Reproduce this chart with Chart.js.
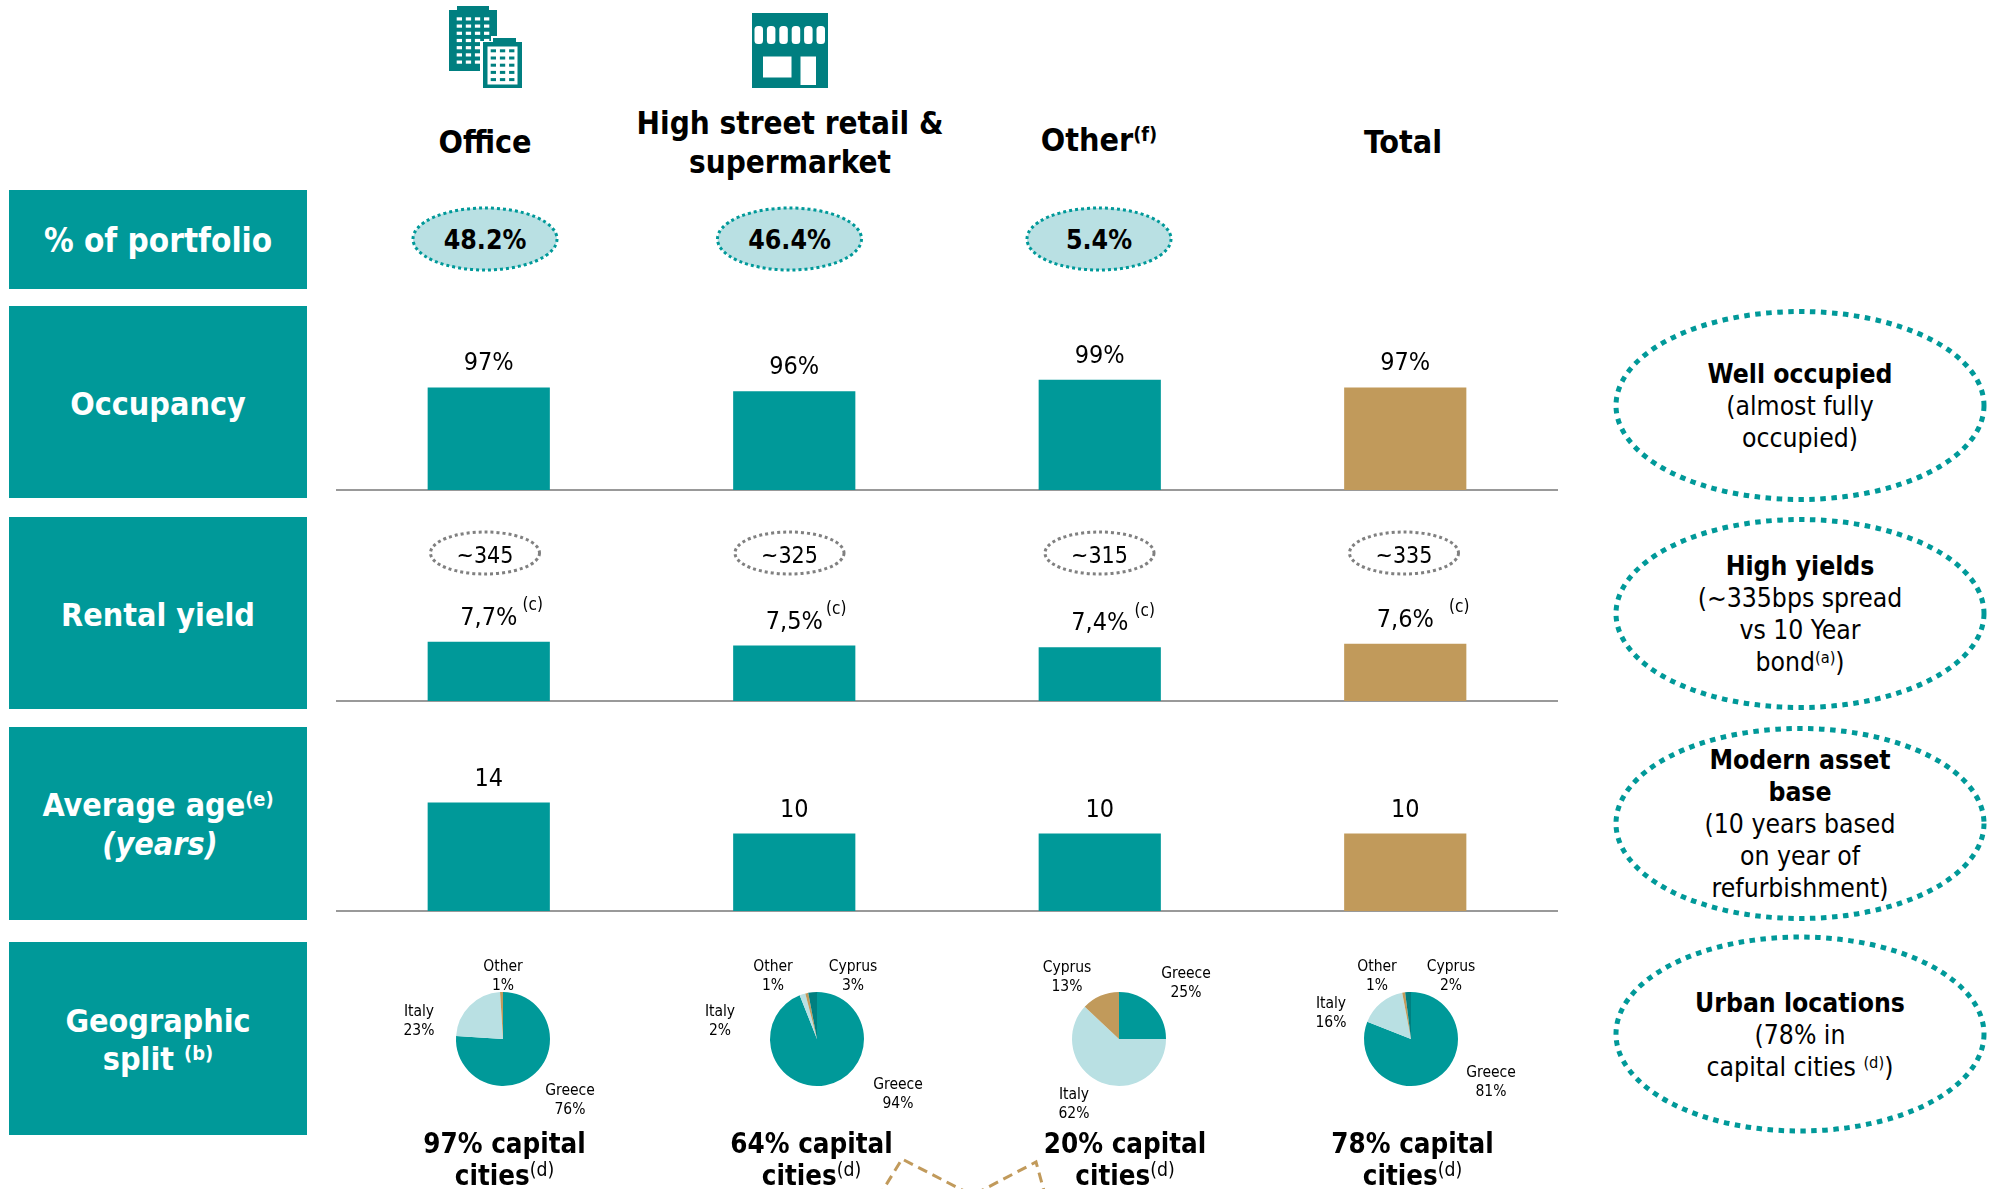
<!DOCTYPE html>
<html>
<head>
<meta charset="utf-8">
<title>Portfolio overview</title>
<script src="https://cdn.jsdelivr.net/npm/chart.js@4/dist/chart.umd.min.js"></script>
<style>
    html, body { margin: 0; padding: 0; background: #fff; }
    #page {
        position: relative; width: 2004px; height: 1189px; overflow: hidden;
        font-family: "DejaVu Sans Condensed", "DejaVu Sans", sans-serif; color: #000;
    }
    #page canvas { position: absolute; }
    #shapes { position: absolute; left: 0; top: 0; }
    .box { position: absolute; left: 9px; width: 298px; background: #009999; }
    .txt { position: absolute; transform: translate(-50%, -50%); white-space: nowrap; line-height: 1; }
    .txt sup { font-size: 0.62em; line-height: 0; vertical-align: 0.5em; }
    .txt sup.lite { font-size: 0.7em; font-weight: normal; }
    .b { font-weight: bold; }
    .w { color: #fff; font-weight: bold; }
</style>
</head>
<body>
<div id="page">
    <svg id="shapes" width="2004" height="1189" xmlns="http://www.w3.org/2000/svg"></svg>
</div>
<script>
// --- Data ---
const sectors = ["Office", "High street retail & supermarket", "Other", "Total"];
const occupancy = [97, 96, 99, 97];
const rentalYield = [7.7, 7.5, 7.4, 7.6];
const averageAge = [14, 10, 10, 10];
const portfolioShare = ["48.2%", "46.4%", "5.4%"];
const yieldSpread = ["~345", "~325", "~315", "~335"];

const geoNames = [
    ["Greece", "Italy", "Other"],
    ["Greece", "Italy", "Other", "Cyprus"],
    ["Greece", "Italy", "Cyprus"],
    ["Greece", "Italy", "Other", "Cyprus"]
];
const geoValues = [
    [76, 23, 1],
    [94, 2, 1, 3],
    [25, 62, 13],
    [81, 16, 1, 2]
];
const capitalCities = ["97%", "64%", "20%", "78%"];

// --- Colours ---
const TEAL = "#009999", DARK = "#007F80", LIGHT = "#B9E0E3", TAN = "#C19A5B", GREY = "#999999";
const barColors = [TEAL, TEAL, TEAL, TAN];
const sliceColors = [TEAL, LIGHT, TAN, DARK];
const FONT = '"DejaVu Sans Condensed", "DejaVu Sans", sans-serif';

const page = document.getElementById("page");
const shapes = document.getElementById("shapes");

function addText(html, x, y, size, cls) {
    const el = document.createElement("div");
    el.className = "txt " + (cls || "");
    el.style.left = x + "px";
    el.style.top = y + "px";
    el.style.fontSize = size + "px";
    el.innerHTML = html;
    page.appendChild(el);
}

function addShape(tag, attrs) {
    const el = document.createElementNS("http://www.w3.org/2000/svg", tag);
    for (const k in attrs) el.setAttribute(k, attrs[k]);
    shapes.appendChild(el);
}

function addCanvas(left, top, width, height) {
    const c = document.createElement("canvas");
    c.width = width;
    c.height = height;
    c.style.left = left + "px";
    c.style.top = top + "px";
    c.style.width = width + "px";
    c.style.height = height + "px";
    page.appendChild(c);
    return c;
}

// Value label over each bar, plus the optional footnote mark next to it
const barLabels = {
    id: "barLabels",
    afterDatasetsDraw(chart, args, opts) {
        const ctx = chart.ctx;
        const values = chart.data.datasets[0].data;
        ctx.save();
        ctx.fillStyle = "#000";
        ctx.textAlign = "center";
        ctx.textBaseline = "middle";
        chart.getDatasetMeta(0).data.forEach((bar, i) => {
            ctx.font = "25px " + FONT;
            ctx.fillText(opts.format(values[i]), bar.x, bar.y - 23.5);
            if (opts.noteDx) {
                ctx.font = "17px " + FONT;
                ctx.fillText(opts.note, bar.x + opts.noteDx[i], bar.y - 36);
            }
        });
        ctx.restore();
    }
};

// One strip of bars. yMin/yMax set how tall the bars come out in a canvas of this height.
function barRow(baseline, height, values, yMin, yMax, labelOpts) {
    const canvas = addCanvas(336, baseline - height, 1222, height + 2);
    new Chart(canvas, {
        type: "bar",
        data: {
            labels: sectors,
            datasets: [{
                data: values,
                backgroundColor: barColors,
                barPercentage: 0.4,
                categoryPercentage: 1
            }]
        },
        options: {
            responsive: false,
            animation: false,
            layout: { padding: { bottom: 2 } },
            scales: {
                x: {
                    grid: { display: false, drawTicks: false },
                    ticks: { display: false },
                    border: { color: GREY, width: 2 }
                },
                y: { display: false, min: yMin, max: yMax }
            },
            plugins: {
                legend: { display: false },
                tooltip: { enabled: false },
                barLabels: labelOpts
            }
        },
        plugins: [barLabels]
    });
}

barRow(490, 152, occupancy, 70, 110, { format: v => v + "%" });
barRow(701, 148, rentalYield, 4.5, 12.5, {
    format: v => String(v).replace(".", ",") + "%",
    note: "(c)",
    noteDx: [44, 42, 45, 54]
});
barRow(911, 155, averageAge, 0, 20, { format: v => String(v) });

// --- Pies ---
const pieCentres = [[503, 1039], [817, 1039], [1118.5, 1039], [1411, 1039]];
// where each slice's label sits, relative to the pie centre
const pieLabelOffsets = [
    [[67, 61], [-84, -18], [0, -63]],
    [[81, 55], [-97, -18], [-44, -63], [36, -63]],
    [[67, -56], [-45, 65], [-52, -62]],
    [[80, 43], [-80, -26], [-34, -63], [40, -63]]
];

const pieLabels = {
    id: "pieLabels",
    afterDatasetsDraw(chart, args, opts) {
        const ctx = chart.ctx;
        const arc = chart.getDatasetMeta(0).data[0];
        ctx.save();
        ctx.fillStyle = "#000";
        ctx.font = "15.5px " + FONT;
        ctx.textAlign = "center";
        ctx.textBaseline = "middle";
        chart.data.labels.forEach((name, i) => {
            const x = arc.x + opts.offsets[i][0];
            const y = arc.y + opts.offsets[i][1];
            ctx.fillText(name, x, y - 9.5);
            ctx.fillText(chart.data.datasets[0].data[i] + "%", x, y + 9.5);
        });
        ctx.restore();
    }
};

geoValues.forEach((values, i) => {
    const w = 290, h = 190;
    const canvas = addCanvas(pieCentres[i][0] - w / 2, pieCentres[i][1] - h / 2, w, h);
    new Chart(canvas, {
        type: "pie",
        data: {
            labels: geoNames[i],
            datasets: [{ data: values, backgroundColor: sliceColors, borderWidth: 0, radius: 47 }]
        },
        options: {
            responsive: false,
            animation: false,
            plugins: {
                legend: { display: false },
                tooltip: { enabled: false },
                pieLabels: { offsets: pieLabelOffsets[i] }
            }
        },
        plugins: [pieLabels]
    });
});

// --- Row headers on the left ---
const rowBoxes = [[190, 99], [306, 192], [517, 192], [727, 193], [942, 193]];
rowBoxes.forEach(r => {
    const el = document.createElement("div");
    el.className = "box";
    el.style.top = r[0] + "px";
    el.style.height = r[1] + "px";
    page.appendChild(el);
});
addText("% of portfolio", 158, 240, 33, "w");
addText("Occupancy", 158, 404, 32, "w");
addText("Rental yield", 158, 615, 32, "w");
addText("Average age<sup>(e)</sup>", 158, 805, 32, "w");
addText("<i>(years)</i>", 160, 844, 32, "w");
addText("Geographic", 158, 1021, 32, "w");
addText("split <sup>(b)</sup>", 158, 1059, 32, "w");

// --- Column headings ---
addText("Office", 485, 142, 32, "b");
addText("High street retail &amp;", 790, 124, 31.2, "b");
addText("supermarket", 790, 163, 31.2, "b");
addText("Other<sup>(f)</sup>", 1099, 140, 32, "b");
addText("Total", 1403, 142, 32, "b");

// --- Share of portfolio ovals ---
const shareCentres = [485, 789.5, 1099];
portfolioShare.forEach((s, i) => {
    addShape("ellipse", {
        cx: shareCentres[i], cy: 239, rx: 72, ry: 31,
        fill: LIGHT, stroke: TEAL, "stroke-width": 3, "stroke-dasharray": "3 3"
    });
    addText(s, shareCentres[i], 240, 26.5, "b");
});

// --- Yield spread ovals ---
const spreadCentres = [485, 789.5, 1099.5, 1404];
yieldSpread.forEach((s, i) => {
    addShape("ellipse", {
        cx: spreadCentres[i], cy: 553, rx: 54.5, ry: 21,
        fill: "none", stroke: "#808080", "stroke-width": 3, "stroke-dasharray": "3 3"
    });
    addText(s, spreadCentres[i], 555, 23);
});

// --- Takeaway ovals on the right ---
const takeaways = [
    { cy: 405.5, ry: 94, lines: [["<b>Well occupied</b>", 374], ["(almost fully", 406], ["occupied)", 438]] },
    { cy: 613.5, ry: 94, lines: [["<b>High yields</b>", 566], ["(~335bps spread", 598], ["vs 10 Year", 630], ["bond<sup>(a)</sup>)", 662]] },
    { cy: 823.5, ry: 95, lines: [["<b>Modern asset</b>", 760], ["<b>base</b>", 792], ["(10 years based", 824], ["on year of", 856], ["refurbishment)", 888]] },
    { cy: 1034, ry: 97, lines: [["<b>Urban locations</b>", 1003], ["(78% in", 1035], ["capital cities <sup>(d)</sup>)", 1067]] }
];
takeaways.forEach(t => {
    addShape("ellipse", {
        cx: 1800, cy: t.cy, rx: 184, ry: t.ry,
        fill: "none", stroke: TEAL, "stroke-width": 5, "stroke-dasharray": "5.5 5.5"
    });
    t.lines.forEach(l => addText(l[0], 1800, l[1], 26.3));
});

// --- Capital city captions under the pies ---
const captionCentres = [504.5, 811.5, 1125, 1412.5];
capitalCities.forEach((c, i) => {
    addText(c + " capital", captionCentres[i], 1144, 27.5, "b");
    addText('cities<sup class="lite">(d)</sup>', captionCentres[i], 1176, 27.5, "b");
});

// --- Dashed outline running off the bottom edge ---
addShape("polyline", {
    points: "878,1198 902,1159 970,1194", fill: "none", stroke: TAN,
    "stroke-width": 3, "stroke-dasharray": "10 6"
});
addShape("polyline", {
    points: "975,1194 1036,1162 1046,1198", fill: "none", stroke: TAN,
    "stroke-width": 3, "stroke-dasharray": "10 6"
});

// --- Office icon ---
addShape("path", { d: "M449 10h8v-4h32v4h8v61h-48z", fill: DARK });
for (let r = 0; r < 7; r++) {
    for (let c = 0; c < 4; c++) {
        addShape("rect", { x: 456.7 + c * 9.1, y: 17.3 + r * 7.2, width: 5.3, height: 3.2, fill: "#fff" });
    }
}
addShape("path", { d: "M480 41h11v-5h25v5h7v49h-43z", fill: "#fff" });
addShape("path", { d: "M483 42h10v-4h23v4h6v46h-39z", fill: DARK });
addShape("rect", { x: 487.5, y: 46.5, width: 30, height: 38, fill: "#fff" });
for (let r = 0; r < 5; r++) {
    for (let c = 0; c < 3; c++) {
        addShape("rect", { x: 490.7 + c * 9.2, y: 49.3 + r * 7.2, width: 5.3, height: 3, fill: DARK });
    }
}

// --- Shop icon ---
addShape("rect", { x: 752, y: 13, width: 76, height: 75, fill: DARK });
for (let c = 0; c < 6; c++) {
    addShape("rect", { x: 754.5 + c * 12.4, y: 26, width: 8.5, height: 18, rx: 3.5, fill: "#fff" });
}
addShape("rect", { x: 763, y: 56.5, width: 28.5, height: 21, fill: "#fff" });
addShape("rect", { x: 800.5, y: 56.5, width: 15.5, height: 28.5, fill: "#fff" });
</script>
</body>
</html>
